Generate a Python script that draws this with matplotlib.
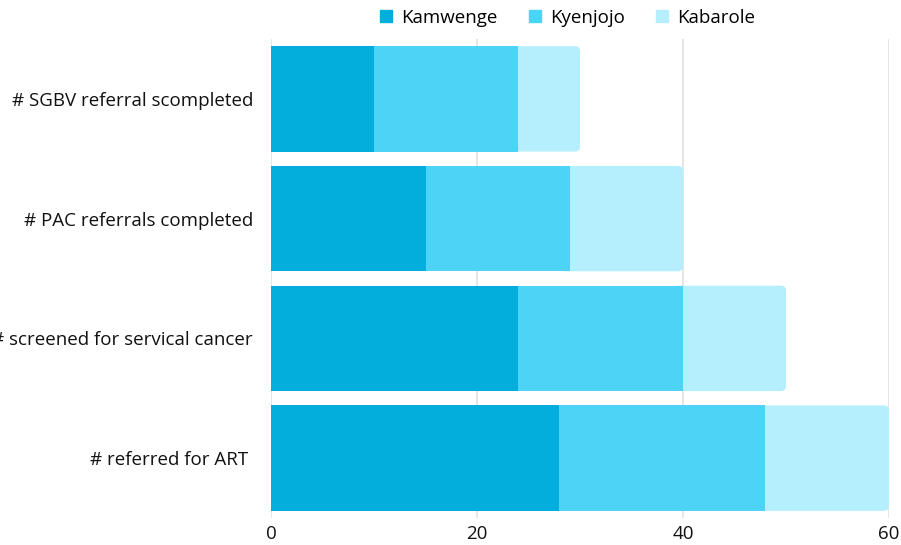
import matplotlib.pyplot as plt
from matplotlib.patches import FancyBboxPatch, Rectangle
from matplotlib.lines import Line2D

# data
categories = ['# SGBV referral scompleted', '# PAC referrals completed',
              '# screened for servical cancer', '# referred for ART ']
series = ['Kamwenge', 'Kyenjojo', 'Kabarole']
kamwenge = [10, 15, 24, 28]
kyenjojo = [14, 14, 16, 20]
kabarole = [6, 11, 10, 12]
colors = ['#03AEDD', '#4DD3F6', '#B5EEFD']
xticks = [0, 20, 40, 60]

plt.rcParams['font.family'] = ['Open Sans', 'DejaVu Sans']
plt.rcParams['font.weight'] = 'medium'

fig = plt.figure(figsize=(9.01, 5.45), dpi=100)
ax = fig.add_axes([271 / 901, 1 - 518 / 545, 618 / 901, 479 / 545])

ys = list(range(len(categories)))[::-1]
h = 0.88
values = [kamwenge, kyenjojo, kabarole]

# px per data unit, for rounded corners
px_x = 618 / 60
px_y = 479 / 4
r = 5 / px_x

for i, y in enumerate(ys):
    left = 0
    for j, vals in enumerate(values):
        v = vals[i]
        if j == len(values) - 1:
            # last segment gets rounded right end, slightly extended under the previous one
            p = FancyBboxPatch((left - 1, y - h / 2), v + 1, h,
                               boxstyle=f'round,pad=0,rounding_size={r}',
                               mutation_aspect=px_x / px_y,
                               fc=colors[j], ec='none', zorder=2)
            ax.add_patch(p)
        else:
            ax.add_patch(Rectangle((left, y - h / 2), v, h, fc=colors[j],
                                   ec='none', zorder=3))
        left += v

ax.set_xlim(0, 60)
ax.set_ylim(-0.5, 3.5)
ax.set_xticks(xticks)
ax.set_yticks(ys)
ax.set_yticklabels(categories)
ax.grid(axis='x', color='#e0e0e0', lw=1.2, zorder=0)
ax.set_axisbelow(True)
for s in ax.spines.values():
    s.set_visible(False)
ax.tick_params(length=0, labelsize=13.5, colors='#111111', pad=13)
ax.tick_params(axis='x', pad=5)

handles = [Line2D([], [], marker='s', ls='none', color=c, markersize=8) for c in colors]
fig.legend(handles, series, loc='center', bbox_to_anchor=(566 / 901, 1 - 18 / 545),
           ncol=3, frameon=False, fontsize=13.5, handletextpad=0.3, columnspacing=1.5,
           handlelength=1.0)

fig.savefig('out.png', dpi=100)
